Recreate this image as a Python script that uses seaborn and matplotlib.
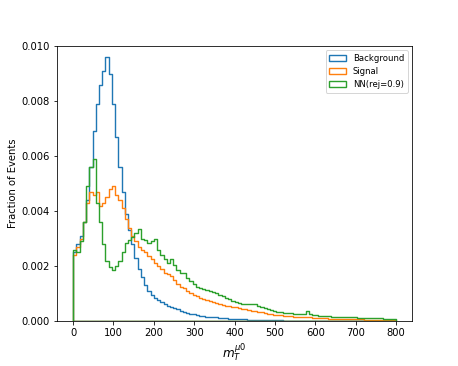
import numpy as np
import pandas as pd
import matplotlib
matplotlib.use("Agg")
import matplotlib.pyplot as plt
from matplotlib.patches import Patch
import seaborn as sns

# 100 bins of width 8 from 0 to 800
bin_width = 8
bin_centers = np.arange(4, 800, bin_width)

# fraction of events per unit (x 1e-3)
background = [2.5, 2.8, 3.1, 3.6, 4.4, 5.6, 6.9, 7.9, 8.6, 9.1,
              9.6, 9.0, 7.9, 6.7, 5.6, 4.7, 3.9, 3.3, 2.8, 2.3,
              1.9, 1.6, 1.3, 1.1, 0.95, 0.83, 0.76, 0.68, 0.63, 0.56,
              0.51, 0.47, 0.42, 0.38, 0.34, 0.30, 0.27, 0.24, 0.21, 0.19,
              0.17, 0.16, 0.15, 0.14, 0.13, 0.12, 0.11, 0.10, 0.09, 0.08,
              0.08, 0.07, 0.07, 0.06, 0.05, 0.05, 0.04, 0.04, 0.03, 0.03,
              0.03, 0.02, 0.02, 0.02, 0.02, 0.01, 0.01, 0.01, 0.01, 0.01,
              0.01, 0.01, 0.01, 0.01, 0.005, 0.005, 0.005, 0.005, 0.005, 0.005,
              0.005, 0.005, 0.0, 0.005, 0.0, 0.0, 0.005, 0.0, 0.0, 0.0,
              0.0, 0.0, 0.0, 0.0, 0.0, 0.0, 0.0, 0.0, 0.0, 0.0]
signal = [2.4, 2.7, 3.0, 3.6, 4.3, 4.7, 4.6, 4.7, 4.2, 4.3,
          4.5, 4.8, 4.9, 4.6, 4.4, 4.1, 3.7, 3.4, 3.1, 2.9,
          2.7, 2.6, 2.5, 2.35, 2.25, 2.1, 2.0, 1.9, 1.75, 1.7,
          1.62, 1.5, 1.35, 1.25, 1.2, 1.1, 1.02, 0.95, 0.9, 0.84,
          0.8, 0.76, 0.72, 0.7, 0.66, 0.62, 0.58, 0.56, 0.54, 0.52,
          0.5, 0.47, 0.44, 0.42, 0.4, 0.37, 0.36, 0.33, 0.31, 0.28,
          0.27, 0.25, 0.23, 0.22, 0.2, 0.18, 0.18, 0.17, 0.16, 0.15,
          0.15, 0.14, 0.13, 0.13, 0.12, 0.12, 0.11, 0.1, 0.1, 0.09,
          0.09, 0.09, 0.08, 0.08, 0.07, 0.07, 0.07, 0.06, 0.06, 0.06,
          0.05, 0.05, 0.05, 0.05, 0.04, 0.04, 0.04, 0.04, 0.03, 0.03]
nn_rej09 = [2.6, 2.5, 2.9, 3.6, 4.9, 5.6, 5.9, 4.3, 3.6, 2.8,
            2.2, 1.95, 1.85, 2.0, 2.2, 2.5, 2.85, 2.95, 3.05, 3.2,
            3.35, 3.0, 2.95, 2.85, 2.9, 3.0, 2.6, 2.4, 2.25, 2.1,
            2.25, 2.05, 1.85, 1.75, 1.75, 1.55, 1.45, 1.35, 1.25, 1.2,
            1.15, 1.12, 1.1, 1.07, 1.0, 0.95, 0.9, 0.85, 0.8, 0.72,
            0.7, 0.66, 0.62, 0.62, 0.6, 0.63, 0.62, 0.55, 0.5, 0.46,
            0.44, 0.4, 0.36, 0.34, 0.32, 0.3, 0.3, 0.28, 0.27, 0.26,
            0.25, 0.27, 0.38, 0.24, 0.2, 0.2, 0.19, 0.18, 0.18, 0.17,
            0.16, 0.16, 0.15, 0.15, 0.14, 0.14, 0.13, 0.13, 0.12, 0.12,
            0.12, 0.11, 0.11, 0.1, 0.1, 0.1, 0.09, 0.09, 0.09, 0.08]

labels = ["Background", "Signal", "NN(rej=0.9)"]
colors = ["#1f77b4", "#ff7f0e", "#2ca02c"]

sns.set_theme(style="ticks", rc={"text.color": "black", "axes.labelcolor": "black",
                                 "xtick.color": "black", "ytick.color": "black",
                                 "axes.edgecolor": "black"})
plt.rcParams["font.family"] = ["DejaVu Sans"]
plt.rcParams["font.size"] = 10

fig, ax = plt.subplots(figsize=(458 / 72, 366 / 72), dpi=72)
fig.subplots_adjust(left=0.1245, right=0.8996, bottom=0.123, top=0.874)

for name, vals, col in zip(labels, [background, signal, nn_rej09], colors):
    df = pd.DataFrame({"m": bin_centers, "w": np.array(vals) * 1e-3})
    sns.histplot(data=df, x="m", weights="w", binwidth=bin_width, binrange=(0, 800),
                 element="step", fill=True, color=col, facecolor="none",
                 edgecolor=col, linewidth=1.4, ax=ax)

ax.set_xlim(-40, 840)
ax.set_ylim(0, 0.010)
ax.set_xlabel(r"$m_T^{\mu 0}$", fontsize=12)
ax.set_ylabel("Fraction of Events", fontsize=10)
ax.tick_params(labelsize=10, length=3.5, width=0.8)
for sp in ax.spines.values():
    sp.set_linewidth(0.8)

handles = [Patch(facecolor="none", edgecolor=c, linewidth=1.4) for c in colors]
ax.legend(handles, labels, loc="upper right", fontsize=8.5, frameon=True)

fig.savefig("out.png", dpi=72)
